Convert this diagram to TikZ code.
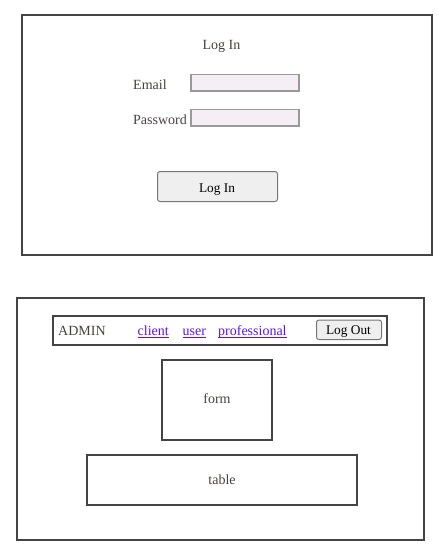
\documentclass[tikz,border=0pt]{standalone}
\usepackage{fontspec}
\setmainfont{Liberation Serif}
\definecolor{frame}{HTML}{444444}
\definecolor{txt}{HTML}{4A4040}
\definecolor{linkc}{HTML}{5C10EE}
\definecolor{inputfill}{HTML}{F5EEF5}
\definecolor{inputline}{HTML}{999999}
\definecolor{btnfill}{HTML}{EFEFEF}
\definecolor{btnline}{HTML}{767676}
\tikzset{
  panel/.style={draw=frame, line width=2pt},
  lbl/.style={inner sep=0pt, text=txt, font=\fontsize{14}{16}\selectfont},
  lnk/.style={inner sep=0pt, text=linkc, font=\fontsize{14}{16}\selectfont},
  btntxt/.style={inner sep=0pt, text=black, font=\fontsize{13.33}{15}\selectfont},
  inputbox/.style={draw=inputline, fill=inputfill, line width=1.3pt},
  btnbox/.style={draw=btnline, fill=btnfill, line width=1pt, rounded corners=2.5pt},
  uline/.style={draw=linkc, line width=1pt}
}
\begin{document}
\begin{tikzpicture}[x=1pt,y=-1pt]
\useasboundingbox (0,0) rectangle (446,555);
% top panel
\draw[panel] (22,15) rectangle (432,255);
\node[lbl, anchor=base] (title) at (221.5,49) {Log In};
\node[lbl, anchor=base west] (email) at (133,89) {Email};
\draw[inputbox] (191,74.5) rectangle (299,91);
\node[lbl, anchor=base west] (pw) at (133,124) {Password};
\draw[inputbox] (191,109.5) rectangle (299,126);
\draw[btnbox] (157.5,171.5) rectangle (277.5,201.5);
\node[btntxt, anchor=base] (login) at (217,192) {Log In};
% bottom panel
\draw[panel] (17,298) rectangle (424,540);
\draw[panel] (52.5,315.5) rectangle (387,345);
\node[lbl, anchor=base west] (admin) at (58,335) {ADMIN};
\node[lnk, anchor=base west] (cl) at (137.5,335.5) {client};
\node[lnk, anchor=base west] (us) at (182.5,335.5) {user};
\node[lnk, anchor=base west] (pr) at (218,335.5) {professional};
\foreach \n in {cl,us,pr}{
  \draw[uline] ([yshift=-2pt]\n.base west) -- ([yshift=-2pt]\n.base east);
}
\draw[btnbox] (316.5,320) rectangle (381.5,339.5);
\node[btntxt, anchor=base] (logout) at (348.5,334.5) {Log Out};
\draw[panel] (162,360) rectangle (272,440) node[lbl, midway, yshift=1pt] (form) {form};
\draw[panel] (87,455) rectangle (357,504.5) node[lbl, midway] (table) {table};
\end{tikzpicture}
\end{document}
